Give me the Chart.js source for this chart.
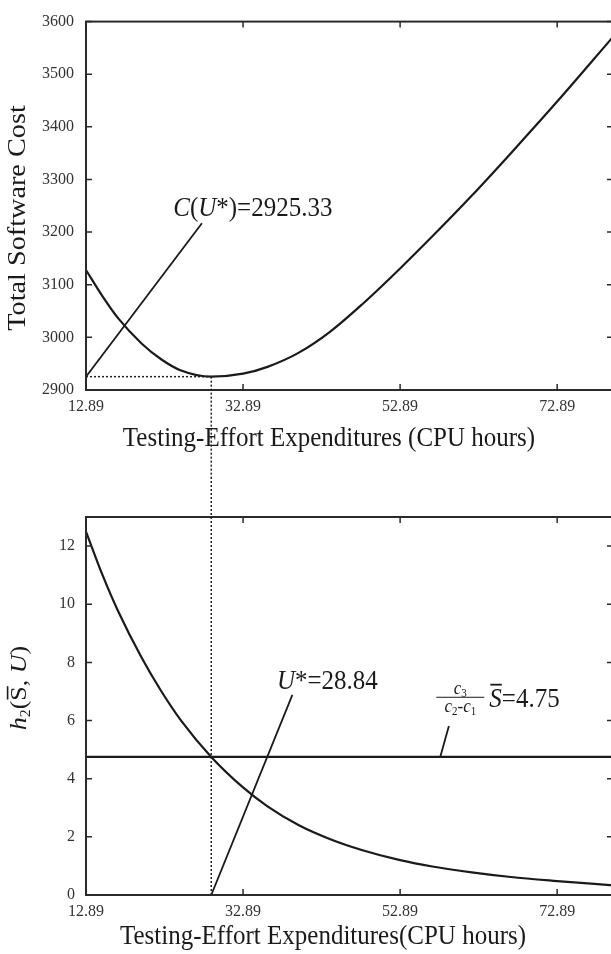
<!DOCTYPE html>
<html>
<head>
<meta charset="utf-8">
<script src="https://cdn.jsdelivr.net/npm/chart.js@4.4.1/dist/chart.umd.min.js"></script>
<style>
  html, body { margin: 0; padding: 0; background: #fff; overflow: hidden; width: 611px; height: 954px; }
  canvas { display: block; }
</style>
</head>
<body>
<canvas id="costChart" width="620" height="477"></canvas>
<canvas id="h2Chart" width="620" height="477"></canvas>
<script>
// testing-effort expenditures (CPU hours) sampled along the curves
const effort = [12.89, 15, 17, 20, 22.5, 25, 28.84, 32.89, 36, 40, 44, 48, 52.89, 57, 62, 67, 72.89, 80];
const totalCost = [3128, 3078, 3036, 2988, 2958, 2937, 2925.33, 2931, 2944, 2971, 3011, 3062, 3131, 3192, 3269, 3350, 3448, 3571];
const h2Values = [12.5, 11.0, 9.75, 8.15, 7.0, 6.0, 4.75, 3.7, 3.05, 2.4, 1.92, 1.55, 1.2, 0.98, 0.78, 0.62, 0.48, 0.33];

const xTicks = [12.89, 32.89, 52.89, 72.89];
const costTicks = [2900, 3000, 3100, 3200, 3300, 3400, 3500, 3600];
const h2Ticks = [0, 2, 4, 6, 8, 10, 12];

const uStar = 28.84;
const cStar = 2925.33;
const threshold = 4.75;

// callout pointers and label anchors (data units)
const costPointer = [[12.89, 2925.33], [27.65, 3217]];
const costLabelAt = [24.0, 3231];
const uStarPointer = [[28.84, 0], [39.17, 6.88]];
const uStarLabelAt = [37.2, 7.1];
const ratioPointer = [[58.0, 4.75], [59.1, 5.81]];
const ratioLabelAt = [57.5, 6.8];

const SERIF = '"Liberation Serif", "DejaVu Serif", serif';
const INK = '#1a1a1a';
const STRETCH = 1.13;

function pts(xs, ys) { return xs.map((x, i) => ({ x, y: ys[i] })); }
function pairPts(p) { return p.map(([x, y]) => ({ x, y })); }

// draw a run of text pieces (italic / subscript / overline) from x along baseline y
function runs(ctx, x, y, parts, measureOnly) {
  let cx = x;
  parts.forEach(p => {
    ctx.font = (p.it ? 'italic ' : '') + p.sz + 'px ' + SERIF;
    const w = ctx.measureText(p.t).width;
    if (!measureOnly) {
      ctx.fillText(p.t, cx, y + (p.dy || 0));
      if (p.over) {
        ctx.save();
        ctx.lineWidth = 1.6;
        ctx.beginPath();
        ctx.moveTo(cx + 1, y - p.sz * 0.8);
        ctx.lineTo(cx + w, y - p.sz * 0.8);
        ctx.stroke();
        ctx.restore();
      }
    }
    cx += w;
  });
  return cx - x;
}

function stretchedText(ctx, x, y, parts, align, rotate) {
  ctx.save();
  ctx.fillStyle = INK;
  ctx.strokeStyle = INK;
  ctx.textBaseline = 'alphabetic';
  ctx.textAlign = 'left';
  ctx.translate(x, y);
  if (rotate) { ctx.rotate(-Math.PI / 2); ctx.scale(STRETCH, 1); }
  else ctx.scale(1, STRETCH);
  const w = runs(ctx, 0, 0, parts, true);
  const start = align === 'center' ? -w / 2 : 0;
  runs(ctx, start, 0, parts, false);
  ctx.restore();
}

function frameAndTicks(chart, xs, ys) {
  const { ctx, chartArea: a, scales } = chart;
  ctx.save();
  ctx.strokeStyle = '#2a2a2a';
  ctx.lineWidth = 2;
  ctx.strokeRect(a.left, a.top, a.right - a.left, a.bottom - a.top);
  ctx.lineWidth = 1.5;
  ctx.beginPath();
  xs.forEach(v => {
    const px = scales.x.getPixelForValue(v);
    ctx.moveTo(px, a.bottom); ctx.lineTo(px, a.bottom - 6);
    ctx.moveTo(px, a.top); ctx.lineTo(px, a.top + 6);
  });
  ys.forEach(v => {
    const py = scales.y.getPixelForValue(v);
    ctx.moveTo(a.left, py); ctx.lineTo(a.left + 6, py);
    ctx.moveTo(a.right, py); ctx.lineTo(a.right - 6, py);
  });
  ctx.stroke();
  ctx.restore();
}

function dotted(ctx, x1, y1, x2, y2) {
  ctx.save();
  ctx.strokeStyle = '#222';
  ctx.lineWidth = 1.5;
  ctx.setLineDash([2, 2]);
  ctx.beginPath();
  ctx.moveTo(x1, y1);
  ctx.lineTo(x2, y2);
  ctx.stroke();
  ctx.restore();
}

function xScale() {
  return {
    type: 'linear', min: 12.89, max: 80,
    afterBuildTicks: s => { s.ticks = xTicks.map(v => ({ value: v })); },
    grid: { display: false, drawTicks: false },
    border: { display: false },
    ticks: { color: '#333', padding: 7, maxRotation: 0, font: { family: SERIF, size: 16 }, callback: v => v.toFixed(2) }
  };
}

function lineSet(data, width, extra) {
  return Object.assign({
    data, showLine: true, borderColor: INK, borderWidth: width,
    pointRadius: 0, fill: false
  }, extra || {});
}

Chart.defaults.animation = false;

const costPlugin = {
  id: 'costDecor',
  afterDatasetsDraw(chart) {
    const { ctx, chartArea: a, scales } = chart;
    frameAndTicks(chart, xTicks, costTicks);
    const ux = scales.x.getPixelForValue(uStar);
    const cy = scales.y.getPixelForValue(cStar);
    dotted(ctx, a.left, cy, ux, cy);
    dotted(ctx, ux, cy, ux, chart.height);
    stretchedText(ctx, scales.x.getPixelForValue(costLabelAt[0]), scales.y.getPixelForValue(costLabelAt[1]), [
      { t: 'C', it: true, sz: 25 }, { t: '(', sz: 25 }, { t: 'U', it: true, sz: 25 }, { t: '*)=2925.33', sz: 25 }
    ]);
    stretchedText(ctx, 329, 446, [{ t: 'Testing-Effort Expenditures (CPU hours)', sz: 25 }], 'center');
    stretchedText(ctx, 25, 218, [{ t: 'Total Software Cost', sz: 25 }], 'center', true);
  }
};

new Chart(document.getElementById('costChart'), {
  type: 'scatter',
  data: {
    datasets: [
      lineSet(pts(effort, totalCost), 2.2, { cubicInterpolationMode: 'monotone' }),
      lineSet(pairPts(costPointer), 1.8)
    ]
  },
  options: {
    responsive: false,
    layout: { padding: { top: 14, right: 7, left: 0, bottom: 0 } },
    plugins: { legend: { display: false }, tooltip: { enabled: false } },
    scales: {
      x: Object.assign(xScale(), { afterFit: s => { s.height = 87; } }),
      y: {
        min: 2900, max: 3600,
        afterBuildTicks: s => { s.ticks = costTicks.map(v => ({ value: v })); },
        afterFit: s => { s.width = 86; },
        grid: { display: false, drawTicks: false },
        border: { display: false },
        ticks: { color: '#333', padding: 12, font: { family: SERIF, size: 16 }, callback: v => String(v) }
      }
    }
  },
  plugins: [costPlugin]
});

const h2Plugin = {
  id: 'h2Decor',
  afterDatasetsDraw(chart) {
    const { ctx, chartArea: a, scales } = chart;
    frameAndTicks(chart, xTicks, h2Ticks);
    const ux = scales.x.getPixelForValue(uStar);
    dotted(ctx, ux, 0, ux, a.bottom);
    const X = v => scales.x.getPixelForValue(v);
    const Y = v => scales.y.getPixelForValue(v);
    stretchedText(ctx, X(uStarLabelAt[0]), Y(uStarLabelAt[1]), [
      { t: 'U', it: true, sz: 25 }, { t: '*=28.84', sz: 25 }
    ]);
    // fraction c3 / (c2 - c1)
    const fx = X(ratioLabelAt[0]);
    const fy = Y(ratioLabelAt[1]);
    const bar = 48;
    ctx.save();
    ctx.strokeStyle = INK;
    ctx.lineWidth = 1;
    ctx.beginPath();
    ctx.moveTo(fx, fy); ctx.lineTo(fx + bar, fy);
    ctx.stroke();
    ctx.restore();
    ctx.save();
    ctx.fillStyle = INK;
    const num = [{ t: 'c', it: true, sz: 17 }, { t: '3', sz: 11, dy: 2 }];
    const den = [{ t: 'c', it: true, sz: 17 }, { t: '2', sz: 11, dy: 2 }, { t: '-', sz: 17 }, { t: 'c', it: true, sz: 17 }, { t: '1', sz: 11, dy: 2 }];
    const nw = runs(ctx, 0, 0, num, true);
    const dw = runs(ctx, 0, 0, den, true);
    ctx.restore();
    stretchedText(ctx, fx + (bar - nw) / 2, fy - 3, num);
    stretchedText(ctx, fx + (bar - dw) / 2, fy + 15, den);
    stretchedText(ctx, fx + bar + 5, fy + 10, [
      { t: 'S', it: true, sz: 25, over: true }, { t: '=4.75', sz: 25 }
    ]);
    stretchedText(ctx, 323, 467, [{ t: 'Testing-Effort Expenditures(CPU hours)', sz: 25 }], 'center');
    stretchedText(ctx, 26, 211, [
      { t: 'h', it: true, sz: 23 }, { t: '2', sz: 14, dy: 4 }, { t: '(', sz: 23 },
      { t: 'S', sz: 23, over: true }, { t: ', ', sz: 23 }, { t: 'U', it: true, sz: 23 }, { t: ')', sz: 23 }
    ], 'center', true);
  }
};

new Chart(document.getElementById('h2Chart'), {
  type: 'scatter',
  data: {
    datasets: [
      lineSet(pts(effort, h2Values), 2.2, { cubicInterpolationMode: 'monotone' }),
      lineSet(pairPts([[12.89, threshold], [80, threshold]]), 2.2),
      lineSet(pairPts(uStarPointer), 1.8),
      lineSet(pairPts(ratioPointer), 1.8)
    ]
  },
  options: {
    responsive: false,
    layout: { padding: { top: 40, right: 7, left: 0, bottom: 0 } },
    plugins: { legend: { display: false }, tooltip: { enabled: false } },
    scales: {
      x: Object.assign(xScale(), { afterFit: s => { s.height = 59; } }),
      y: {
        min: 0, max: 13,
        afterBuildTicks: s => { s.ticks = h2Ticks.map(v => ({ value: v })); },
        afterFit: s => { s.width = 86; },
        grid: { display: false, drawTicks: false },
        border: { display: false },
        ticks: { color: '#333', padding: 11, font: { family: SERIF, size: 16 } }
      }
    }
  },
  plugins: [h2Plugin]
});
</script>
</body>
</html>
